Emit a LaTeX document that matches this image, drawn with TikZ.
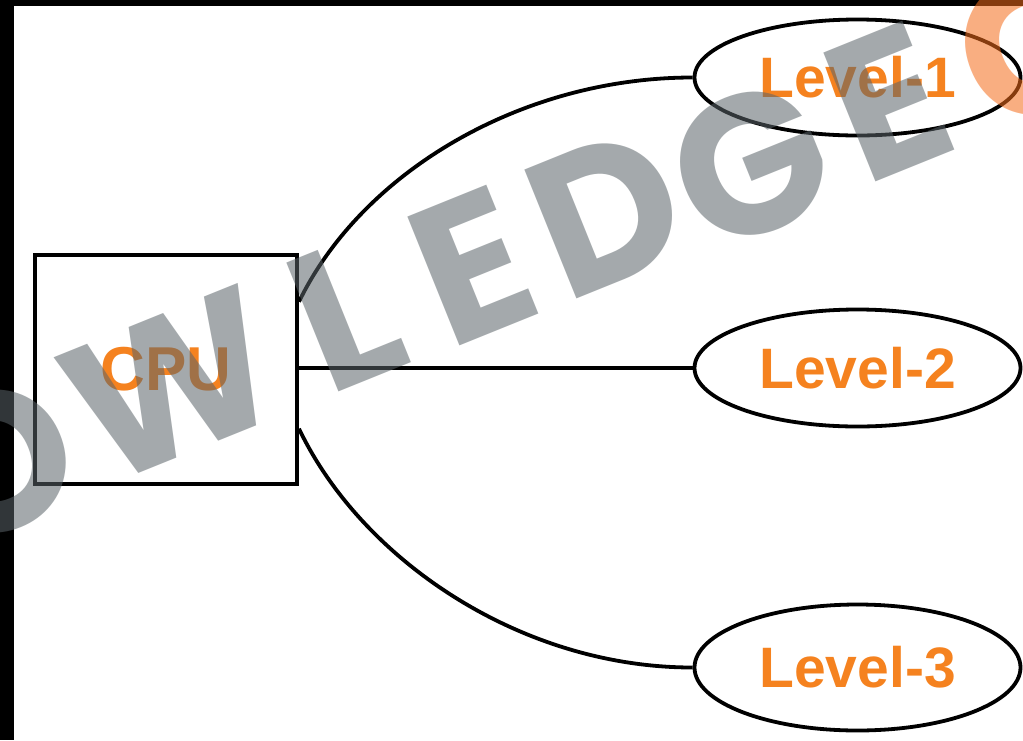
\documentclass[tikz,border=0pt]{standalone}
\usepackage{fontspec}
\setmainfont{Liberation Sans}
\newfontfamily\markfont{Poppins}
\usetikzlibrary{shapes.geometric}
\definecolor{lvlorange}{HTML}{F5821F}
\definecolor{markgray}{RGB}{91,100,105}
\definecolor{markorange}{RGB}{245,109,27}

\begin{document}
\begin{tikzpicture}[x=1pt, y=-1pt,
    cpubox/.style={draw, line width=4pt, minimum width=262pt, minimum height=229pt, inner sep=0pt,
        text=lvlorange, font=\bfseries\fontsize{62}{62}\selectfont},
    lvlbox/.style={draw, ellipse, line width=3.8pt, minimum width=326pt, inner sep=0pt,
        text=lvlorange, font=\bfseries\fontsize{57}{57}\selectfont},
    link/.style={line width=3.8pt},
    wmark/.style={rotate=22, inner sep=0pt, opacity=0.55, text=markgray,
        font=\markfont\bfseries\fontsize{198}{198}\selectfont},
]
    \useasboundingbox (0,0) rectangle (1023,740);
    \clip (0,0) rectangle (1023,740);
    \fill[white] (0,0) rectangle (1023,740);
    \fill[black] (0,0) rectangle (14,740);
    \fill[black] (0,0) rectangle (1023,6);

    \node[cpubox] (cpu) at (166,369.5) {CPU};

    \node[lvlbox, minimum height=116pt] (l1) at (857.5,77.5) {Level-1};
    \node[lvlbox, minimum height=117pt] (l2) at (857.5,368) {Level-2};
    \node[lvlbox, minimum height=126pt] (l3) at (857.5,667.5) {Level-3};

    % links
    \draw[link] (cpu.27) .. controls +(62,-128) and +(-173,0) .. (l1.west);
    \draw[link] (cpu.east |- l2.west) -- (l2.west);
    \draw[link] (cpu.-24) .. controls +(62,130) and +(-173,0) .. (l3.west);

    % watermark
    \node[wmark] (wm1) at (-5,462) {O};
    \node[wmark] (wm2) at (172,385) {W};
    \node[wmark] (wm3) at (345,314) {L};
    \node[wmark] (wm4) at (472,266) {E};
    \node[wmark] (wm5) at (606,212) {D};
    \node[wmark] (wm6) at (750,165) {G};
    \node[wmark] (wm7) at (888,102) {E};
    \node[wmark, text=markorange] (wm8) at (1035,45) {G};
\end{tikzpicture}
\end{document}
